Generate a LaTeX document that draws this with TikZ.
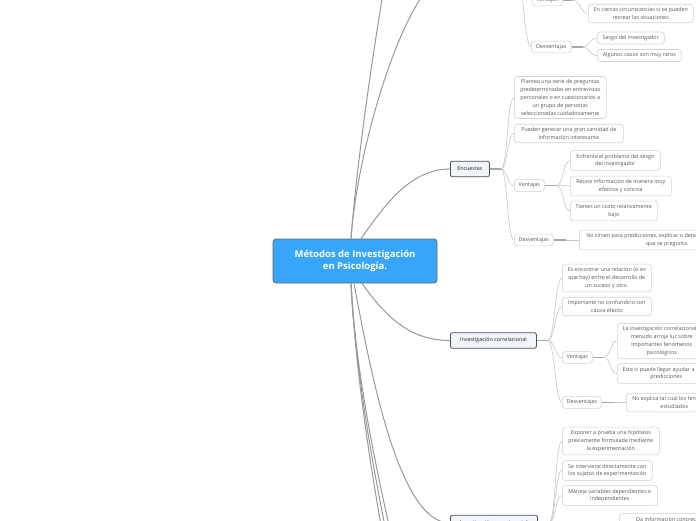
\documentclass[tikz,border=0pt]{standalone}
\usepackage{fontspec}
\setmainfont{Open Sans}
\usetikzlibrary{calc}

\definecolor{rootblue}{HTML}{37A5FA}
\definecolor{rootedge}{HTML}{5F6B75}
\definecolor{topicfill}{HTML}{F1F5FA}
\definecolor{topicedge}{HTML}{4B4F55}
\definecolor{leafedge}{HTML}{D2D2D2}
\definecolor{leaftext}{HTML}{585858}

\begin{document}
\begin{tikzpicture}[x=1pt, y=1pt,
  every node/.style={font=\fontsize{5.4}{7.8}\selectfont, inner ysep=3.3pt},
  root/.style={draw=rootedge, line width=0.8pt, fill=rootblue, rounded corners=3pt, text=white, align=center, minimum width=164pt, minimum height=44pt, font=\fontsize{9.5}{12.5}\selectfont\bfseries},
  topic/.style={draw=topicedge, line width=0.8pt, fill=topicfill, rounded corners=2pt, text=black!85, anchor=west, inner xsep=5pt, minimum height=15.5pt},
  leaf/.style={draw=leafedge, line width=0.6pt, fill=white, rounded corners=3pt, text=leaftext, anchor=west, align=center, inner xsep=3pt},
  trunk/.style={draw=black!40, line width=1pt},
  stub/.style={draw=black!35, line width=1.4pt},
  twig/.style={draw=black!22, line width=0.6pt},
  sweep/.style={out=0, in=180, distance=7pt}]
  \useasboundingbox (0,0) rectangle (696,-520);
  \clip (0,0) rectangle (696,-520);
  \fill[white] (0,0) rectangle (696,-520);

  % central topic
  \node[root] (root) at (355,-261) {Métodos de Investigación\\en Psicología.};

  % upper group (its topic is above the page)
  \coordinate (obs) at (455,30);
  \coordinate (obsJ) at (516,30);
  \node[leaf, minimum width=30pt] (obsVen) at (532,0) {Ventajas};
  \coordinate (obsVenA) at (588,20);
  \node[leaf, minimum width=105pt] (obsVenB) at (588,-13.5) {En ciertas circunstancias si se pueden\\recrear las situaciones};
  \node[leaf, minimum width=40pt] (obsDes) at (531,-47) {Desventajas};
  \node[leaf, minimum width=67pt] (obsDesA) at (597,-38) {Sesgo del investigador};
  \node[leaf, minimum width=84pt] (obsDesB) at (597,-55.5) {Algunos casos son muy raros};

  % encuestas
  \node[topic, minimum width=39pt] (enc) at (450,-169) {Encuestas};
  \node[leaf, minimum width=92pt] (encA) at (514,-97.5) {Plantea una serie de preguntas\\predeterminadas en entrevistas\\personales o en cuestionarios a\\un grupo de personas\\seleccionadas cuidadosamente};
  \node[leaf, minimum width=109pt] (encB) at (514,-133.5) {Pueden generar una gran cantidad de\\información interesante};
  \node[leaf, minimum width=30pt] (encVen) at (514,-185.5) {Ventajas};
  \node[leaf, minimum width=39pt] (encDes) at (514,-240) {Desventajas};
  \node[leaf, minimum width=90pt] (encVenA) at (570,-160.5) {Enfrenta el problema del sesgo\\del investigador};
  \node[leaf, minimum width=101pt] (encVenB) at (570,-186) {Reune información de manera muy\\efectiva y concisa};
  \node[leaf, minimum width=87pt] (encVenC) at (570,-211) {Tienen un costo relativamente\\bajo};
  \node[leaf, minimum width=176pt] (encDesA) at (579,-240) {No sirven para predicciones, explicar o determinar la causa de lo\\que se pregunta.};

  % correlacional
  \node[topic, minimum width=86pt] (cor) at (450,-340.5) {Investigación correlacional};
  \node[leaf, minimum width=89pt] (corA) at (562,-278) {Es encontrar una relación (si es\\que hay) entre el desarrollo de\\un suceso y otro.};
  \node[leaf, minimum width=89pt] (corB) at (562,-306.5) {Importante no confundirlo con\\causa efecto};
  \node[leaf, minimum width=30pt] (corVen) at (562,-357.5) {Ventajas};
  \node[leaf, minimum width=39pt] (corDes) at (562,-402.5) {Desventajas};
  \node[leaf, minimum width=89pt] (corVenA) at (617,-341) {La investigación correlacional a\\menudo arroja luz sobre\\importantes fenómenos\\psicológicos};
  \node[leaf, minimum width=98pt] (corVenB) at (617,-373.5) {Este si puede llegar ayudar a hacer\\predicciones};
  \node[leaf, minimum width=96pt] (corDesA) at (626,-402.5) {No explica tal cual los fenómenos\\estudiados};

  % experimental
  \node[topic, minimum width=87pt] (exp) at (450,-523) {Investigación experimental};
  \node[leaf, minimum width=97pt] (expA) at (562,-441) {Exponer a prueba una hipótesis\\previamente formulada mediante\\la experimentación};
  \node[leaf, minimum width=90pt] (expB) at (562,-470.5) {Se interviene directamente con\\los sujetos de experimentación};
  \node[leaf, minimum width=95pt] (expC) at (562,-495.5) {Maneja variables dependientes e\\independientes};
  \node[leaf, minimum width=100pt] (expVenA) at (619,-523.5) {Da información concreta y\\precisa};

  % from the central topic
  \coordinate (rootNW) at ($(root.north)+(-4,0)$);
  \coordinate (rootNE) at ($(root.north)+(6,0)$);
  \coordinate (rootSW) at ($(root.south)+(-4,0)$);
  \coordinate (rootS) at ($(root.south)+(-1,0)$);
  \coordinate (rootSE) at ($(root.south)+(7,0)$);
  \coordinate (upA) at (430,250);
  \coordinate (dnA) at (430,-760);
  \coordinate (dnB) at (440,-760);
  \coordinate (dnC) at (450,-760);
  \draw[trunk] (rootNW) .. controls (362,-100) and (400,120) .. (upA);
  \draw[trunk] (rootNW) .. controls (358,-140) and (410,30) .. (obs);
  \draw[trunk] (rootNE) .. controls (385,-205) and (410,-169) .. (enc.west);
  \draw[trunk] (rootSE) .. controls (386,-317) and (410,-340.5) .. (cor.west);
  \draw[trunk] (rootS) .. controls (372,-380) and (400,-523) .. (exp.west);
  \draw[trunk] (rootSW) .. controls (358,-420) and (392,-600) .. (dnA);
  \draw[trunk] (rootSW) .. controls (358,-420) and (398,-600) .. (dnB);
  \draw[trunk] (rootSW) .. controls (358,-420) and (405,-600) .. (dnC);

  % topics to their leaves
  \foreach \k in {obsVen,obsDes} \draw[twig] (obsJ) to[sweep] (\k.west);
  \coordinate (obsVenJ) at ($(obsVen.east)+(10,0)$);
  \draw[stub] (obsVen.east) -- (obsVenJ);
  \draw[twig] (obsVenJ) to[sweep] (obsVenA);
  \draw[twig] (obsVenJ) to[sweep] (obsVenB.west);
  \coordinate (obsDesJ) at ($(obsDes.east)+(11,0)$);
  \draw[stub] (obsDes.east) -- (obsDesJ);
  \foreach \k in {obsDesA,obsDesB} \draw[twig] (obsDesJ) to[sweep] (\k.west);

  \coordinate (encJ) at ($(enc.east)+(11,0)$);
  \draw[stub] (enc.east) -- (encJ);
  \foreach \k in {encA,encB,encVen,encDes} \draw[twig] (encJ) to[sweep] (\k.west);
  \coordinate (encVenJ) at ($(encVen.east)+(12,0)$);
  \draw[stub] (encVen.east) -- (encVenJ);
  \foreach \k in {encVenA,encVenB,encVenC} \draw[twig] (encVenJ) to[sweep] (\k.west);
  \coordinate (encDesJ) at ($(encDes.east)+(12,0)$);
  \draw[stub] (encDes.east) -- (encDesJ);
  \draw[twig] (encDesJ) -- (encDesA.west);

  \coordinate (corJ) at ($(cor.east)+(11,0)$);
  \draw[stub] (cor.east) -- (corJ);
  \foreach \k in {corA,corB,corVen,corDes} \draw[twig] (corJ) to[sweep] (\k.west);
  \coordinate (corVenJ) at ($(corVen.east)+(11,0)$);
  \draw[stub] (corVen.east) -- (corVenJ);
  \foreach \k in {corVenA,corVenB} \draw[twig] (corVenJ) to[sweep] (\k.west);
  \coordinate (corDesJ) at ($(corDes.east)+(12,0)$);
  \draw[stub] (corDes.east) -- (corDesJ);
  \draw[twig] (corDesJ) -- (corDesA.west);

  \coordinate (expJ) at ($(exp.east)+(11,0)$);
  \draw[stub] (exp.east) -- (expJ);
  \foreach \k in {expA,expB,expC} \draw[twig] (expJ) to[sweep] (\k.west);
\end{tikzpicture}
\end{document}
